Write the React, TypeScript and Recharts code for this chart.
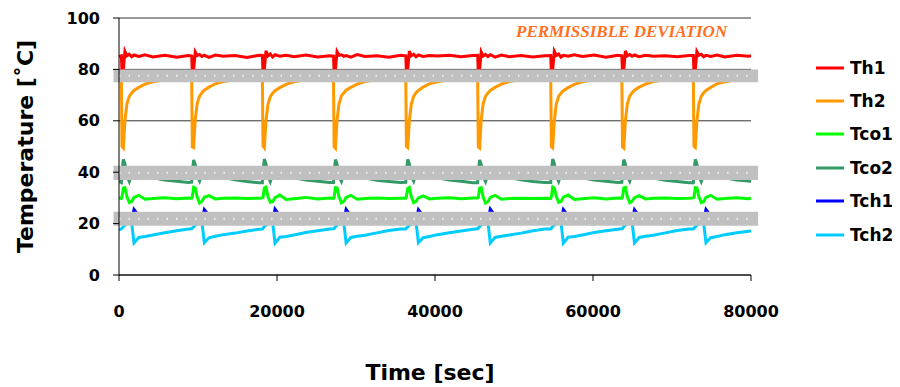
import { LineChart, Line, XAxis, YAxis, CartesianGrid, Legend, ReferenceArea, ReferenceLine, Label } from 'recharts'

// time stamps [sec]
const time = [
  0,
  300, 380, 550, 750, 1000, 1300, 1600, 1900, 2500, 3300, 4300, 5800, 7300, 8800,
  9200, 9280, 9450, 9650, 9900, 10200, 10500, 10800, 11400, 12200, 13200, 14700, 16200, 17700,
  18150, 18230, 18400, 18600, 18850, 19150, 19450, 19750, 20350, 21150, 22150, 23650, 25150, 26650,
  27150, 27230, 27400, 27600, 27850, 28150, 28450, 28750, 29350, 30150, 31150, 32650, 34150, 35650,
  36300, 36380, 36550, 36750, 37000, 37300, 37600, 37900, 38500, 39300, 40300, 41800, 43300, 44800,
  45400, 45480, 45650, 45850, 46100, 46400, 46700, 47000, 47600, 48400, 49400, 50900, 52400, 53900,
  54650, 54730, 54900, 55100, 55350, 55650, 55950, 56250, 56850, 57650, 58650, 60150, 61650, 63150,
  63650, 63730, 63900, 64100, 64350, 64650, 64950, 65250, 65850, 66650, 67650, 69150, 70650, 72150,
  72700, 72780, 72950, 73150, 73400, 73700, 74000, 74300, 74900, 75700, 76700, 78200, 79700, 80000,
]

const th1 = [
  85.0,
  85.3, 79, 80, 87.0, 85.3, 85.9, 84.9, 85.6, 85.0, 85.7, 84.8, 85.5, 84.7, 85.4,
  85.2, 79, 80, 86.8, 85.4, 85.8, 85.0, 85.5, 84.7, 85.6, 85.1, 85.4, 84.6, 85.5,
  85.4, 79, 80, 87.2, 85.2, 86.0, 84.8, 85.7, 85.1, 85.5, 84.9, 85.6, 84.8, 85.3,
  85.2, 79, 80, 86.9, 85.5, 85.7, 85.1, 85.4, 84.8, 85.8, 85.0, 85.3, 84.7, 85.5,
  85.3, 79, 80, 87.1, 85.3, 85.9, 84.9, 85.6, 85.0, 85.4, 85.2, 85.5, 84.9, 85.4,
  85.5, 79, 80, 86.8, 85.2, 85.8, 85.0, 85.7, 84.8, 85.6, 84.9, 85.4, 84.8, 85.3,
  85.4, 79, 80, 87.0, 85.4, 86.0, 84.8, 85.5, 85.1, 85.7, 85.0, 85.6, 84.7, 85.5,
  85.3, 79, 80, 87.2, 85.3, 85.8, 85.1, 85.6, 84.9, 85.5, 85.1, 85.3, 84.9, 85.4,
  85.4, 79, 80, 86.9, 85.5, 85.9, 84.9, 85.5, 85.0, 85.6, 84.8, 85.5, 85.1, 85.3,
]

const th2 = [
  76.5,
  76.5, 50.0, 49.4, 60.0, 66.5, 69.5, 70.8, 71.8, 73.0, 74.3, 75.2, 76.0, 76.5, 76.5,
  76.5, 49.8, 49.6, 60.5, 66.8, 69.6, 70.9, 71.9, 73.1, 74.4, 75.3, 76.0, 76.4, 76.5,
  76.5, 50.2, 49.5, 59.8, 66.3, 69.4, 70.7, 71.7, 72.9, 74.2, 75.2, 76.1, 76.5, 76.5,
  76.5, 49.9, 49.3, 60.2, 66.6, 69.7, 70.8, 71.9, 73.0, 74.3, 75.3, 76.0, 76.5, 76.5,
  76.5, 50.1, 49.6, 60.0, 66.4, 69.5, 70.9, 71.8, 73.1, 74.4, 75.2, 76.0, 76.4, 76.5,
  76.5, 49.8, 49.4, 60.3, 66.7, 69.6, 70.8, 71.8, 73.0, 74.3, 75.3, 76.1, 76.5, 76.5,
  76.5, 50.0, 49.5, 59.9, 66.5, 69.5, 70.7, 71.7, 72.9, 74.2, 75.2, 76.0, 76.5, 76.5,
  76.5, 49.9, 49.4, 60.1, 66.6, 69.6, 70.9, 71.9, 73.1, 74.3, 75.3, 76.0, 76.4, 76.5,
  76.5, 50.1, 49.6, 60.0, 66.5, 69.5, 70.8, 71.8, 73.0, 74.4, 75.2, 76.0, 76.5, 76.5,
]

const tco1 = [
  30.0,
  29.8, 30.3, 33.8, 34.0, 30.5, 28.2, 28.6, 30.2, 31.0, 29.5, 29.8, 30.1, 29.7, 30.0,
  29.9, 30.4, 34.1, 33.8, 30.3, 28.0, 28.7, 30.3, 30.9, 29.6, 29.9, 30.0, 29.8, 29.9,
  30.0, 30.2, 33.9, 34.2, 30.6, 28.3, 28.5, 30.1, 31.1, 29.4, 29.7, 30.2, 29.6, 30.0,
  29.8, 30.3, 34.0, 33.9, 30.4, 28.1, 28.6, 30.2, 31.0, 29.5, 29.8, 30.0, 29.8, 29.9,
  29.9, 30.5, 33.7, 34.1, 30.5, 28.2, 28.7, 30.0, 30.8, 29.6, 29.9, 30.1, 29.7, 30.0,
  30.0, 30.2, 33.8, 34.0, 30.3, 28.0, 28.5, 30.2, 31.0, 29.5, 29.8, 29.9, 29.8, 29.9,
  29.8, 30.4, 34.2, 33.8, 30.6, 28.3, 28.6, 30.3, 31.1, 29.4, 29.7, 30.1, 29.6, 30.0,
  29.9, 30.3, 33.9, 34.1, 30.4, 28.1, 28.7, 30.1, 30.9, 29.6, 29.9, 30.0, 29.8, 29.9,
  30.0, 30.2, 34.0, 33.9, 30.5, 28.2, 28.5, 30.2, 31.0, 29.5, 29.8, 30.1, 29.7, 29.9,
]

const tco2 = [
  36.5,
  36.0, 40.5, 45.0, 43.2, 38.5, 36.4, 39.2, 40.0, 39.6, 38.8, 37.8, 37.0, 36.5, 36.0,
  36.1, 40.3, 44.8, 43.0, 38.3, 36.5, 39.3, 40.1, 39.5, 38.7, 37.9, 37.1, 36.4, 35.9,
  35.9, 40.6, 45.1, 43.3, 38.6, 36.3, 39.1, 40.0, 39.7, 38.9, 37.8, 37.0, 36.5, 36.0,
  36.0, 40.4, 44.9, 43.1, 38.4, 36.4, 39.2, 40.1, 39.6, 38.8, 37.7, 36.9, 36.4, 36.0,
  36.1, 40.5, 45.0, 43.2, 38.5, 36.5, 39.3, 40.0, 39.5, 38.7, 37.8, 37.0, 36.5, 35.9,
  35.9, 40.3, 44.8, 43.0, 38.3, 36.3, 39.1, 40.1, 39.7, 38.9, 37.9, 37.1, 36.4, 36.0,
  36.0, 40.6, 45.1, 43.3, 38.6, 36.4, 39.2, 40.0, 39.6, 38.8, 37.8, 37.0, 36.5, 36.0,
  36.1, 40.4, 44.9, 43.1, 38.4, 36.5, 39.3, 40.1, 39.5, 38.7, 37.7, 36.9, 36.4, 35.9,
  35.9, 40.5, 45.0, 43.2, 38.5, 36.4, 39.2, 40.0, 39.6, 38.8, 37.8, 37.0, 36.6, 36.4,
]

const tch1 = [
  22.5,
  22.5, 22.4, 22.6, 22.5, 22.3, 22.2, 21.2, 25.5, 23.0, 22.7, 22.5, 22.6, 22.4, 22.5,
  22.4, 22.5, 22.6, 22.4, 22.3, 22.1, 21.3, 25.4, 23.1, 22.6, 22.5, 22.4, 22.5, 22.5,
  22.5, 22.6, 22.5, 22.5, 22.2, 22.2, 21.1, 25.6, 23.0, 22.7, 22.4, 22.6, 22.4, 22.4,
  22.4, 22.4, 22.6, 22.5, 22.3, 22.1, 21.2, 25.5, 22.9, 22.6, 22.5, 22.5, 22.5, 22.5,
  22.5, 22.5, 22.5, 22.4, 22.3, 22.2, 21.3, 25.4, 23.0, 22.7, 22.6, 22.4, 22.4, 22.5,
  22.5, 22.4, 22.6, 22.5, 22.2, 22.2, 21.2, 25.6, 23.1, 22.6, 22.5, 22.6, 22.5, 22.4,
  22.4, 22.5, 22.5, 22.5, 22.3, 22.1, 21.1, 25.5, 23.0, 22.7, 22.4, 22.5, 22.4, 22.5,
  22.5, 22.6, 22.6, 22.4, 22.3, 22.2, 21.3, 25.4, 22.9, 22.6, 22.5, 22.4, 22.5, 22.5,
  22.5, 22.4, 22.5, 22.5, 22.2, 22.2, 21.2, 25.5, 23.0, 22.7, 22.6, 22.5, 22.4, 22.4,
]

const tch2 = [
  17.5,
  18.0, 18.2, 18.8, 19.4, 19.9, 20.2, 20.4, 12.5, 14.6, 15.0, 15.6, 16.4, 17.2, 17.9,
  18.0, 18.3, 18.7, 19.5, 19.8, 20.2, 20.5, 12.6, 14.5, 15.1, 15.7, 16.3, 17.1, 17.8,
  17.9, 18.2, 18.9, 19.4, 19.9, 20.3, 20.4, 12.4, 14.7, 15.0, 15.6, 16.5, 17.2, 17.9,
  18.0, 18.1, 18.8, 19.3, 20.0, 20.2, 20.5, 12.5, 14.6, 15.1, 15.5, 16.4, 17.3, 17.9,
  17.9, 18.2, 18.7, 19.4, 19.8, 20.1, 20.4, 12.6, 14.5, 15.0, 15.7, 16.4, 17.1, 17.8,
  18.0, 18.3, 18.8, 19.5, 19.9, 20.2, 20.5, 12.5, 14.6, 15.1, 15.6, 16.3, 17.2, 17.9,
  17.9, 18.2, 18.9, 19.4, 19.9, 20.3, 20.4, 12.4, 14.7, 15.0, 15.6, 16.5, 17.2, 17.8,
  18.0, 18.1, 18.8, 19.4, 20.0, 20.2, 20.5, 12.5, 14.6, 15.1, 15.5, 16.4, 17.3, 17.9,
  17.9, 18.2, 18.7, 19.4, 19.8, 20.1, 20.4, 12.6, 14.5, 15.0, 15.7, 16.4, 17.0, 17.1,
]

const seriesNames = ['Th1', 'Th2', 'Tco1', 'Tco2', 'Tch1', 'Tch2']
const seriesColors = ['#ff0000', '#ff9900', '#00ff00', '#339966', '#0000ff', '#00ccff']
const seriesValues = [th1, th2, tco1, tco2, tch1, tch2]

const xTicks = [0, 20000, 40000, 60000, 80000]
const yTicks = [0, 20, 40, 60, 80, 100]

// permissible deviation bands [°C]
const bandLow = [75, 37, 19.2]
const bandHigh = [80, 42.5, 24.6]

const chartData = time.map((t, i) => {
  const row: Record<string, number> = { time: t }
  seriesNames.forEach((name, k) => {
    row[name] = seriesValues[k][i]
  })
  return row
})

const font = "'DejaVu Sans', sans-serif"
const tickStyle = { fill: '#000', fontSize: 16, fontWeight: 'bold', fontFamily: font }

function LegendBox() {
  return (
    <div>
      {seriesNames.map((name, k) => (
        <div key={name} style={{ display: 'flex', alignItems: 'center', height: 33.4 }}>
          <svg width={32} height={6}>
            <line x1={2} y1={3} x2={30} y2={3} stroke={seriesColors[k]} strokeWidth={3} />
          </svg>
          <span style={{ marginLeft: 4, fontSize: 17, fontWeight: 'bold', fontFamily: font, color: '#000' }}>
            {name}
          </span>
        </div>
      ))}
    </div>
  )
}

export default function App() {
  return (
    <div style={{ position: 'relative', width: 892, height: 379 }}>
      <LineChart width={892} height={379} data={chartData} margin={{ top: 10, right: 49, left: 0, bottom: 0 }}>
        <CartesianGrid vertical={false} stroke="#333" />
        <XAxis
          dataKey="time"
          type="number"
          domain={[0, 80000]}
          ticks={xTicks}
          allowDataOverflow
          height={112}
          tickSize={6}
          tickMargin={25}
          stroke="#000"
          tick={tickStyle}
        >
          <Label
            value="Time [sec]"
            position="insideBottom"
            offset={7}
            dx={-5}
            style={{ fontSize: 22, fontWeight: 'bold', fontFamily: font, fill: '#000' }}
          />
        </XAxis>
        <YAxis
          type="number"
          domain={[0, 100]}
          ticks={yTicks}
          width={111}
          tickSize={6}
          tickMargin={13}
          stroke="#000"
          tick={tickStyle}
        >
          <Label
            value="Temperature [˚C]"
            position="insideLeft"
            angle={-90}
            offset={17}
            textAnchor="middle"
            style={{ fontSize: 22, fontWeight: 'bold', fontFamily: font, fill: '#000', textAnchor: 'middle' }}
          />
        </YAxis>
        <Legend
          layout="vertical"
          align="right"
          verticalAlign="top"
          width={100}
          content={() => <LegendBox />}
          wrapperStyle={{ left: 806, top: 43, right: 'auto' }}
        />
        {seriesNames.map((name, k) => (
          <Line
            key={name}
            dataKey={name}
            name={name}
            type="linear"
            stroke={seriesColors[k]}
            strokeWidth={3}
            dot={false}
            activeDot={false}
            isAnimationActive={false}
          />
        ))}
        {bandLow.map((lo, k) => (
          <ReferenceArea
            key={'band' + k}
            x1={-700}
            x2={80900}
            y1={lo}
            y2={bandHigh[k]}
            fill="#c0c0c0"
            fillOpacity={1}
            stroke="none"
            ifOverflow="visible"
            zIndex={450}
          />
        ))}
        {bandLow.map((lo, k) => (
          <ReferenceLine
            key={'dots' + k}
            y={(lo + bandHigh[k]) / 2}
            stroke="#eeeeee"
            strokeWidth={2}
            strokeDasharray="1.5 8"
            zIndex={460}
          />
        ))}
      </LineChart>
      <div
        style={{
          position: 'absolute',
          left: 508,
          top: 14,
          lineHeight: '20px',
          fontFamily: "'Liberation Serif', serif",
          fontStyle: 'italic',
          fontWeight: 'bold',
          fontSize: 17,
          color: '#ff7020',
          whiteSpace: 'nowrap',
        }}
      >
        PERMISSIBLE DEVIATION
      </div>
    </div>
  )
}
